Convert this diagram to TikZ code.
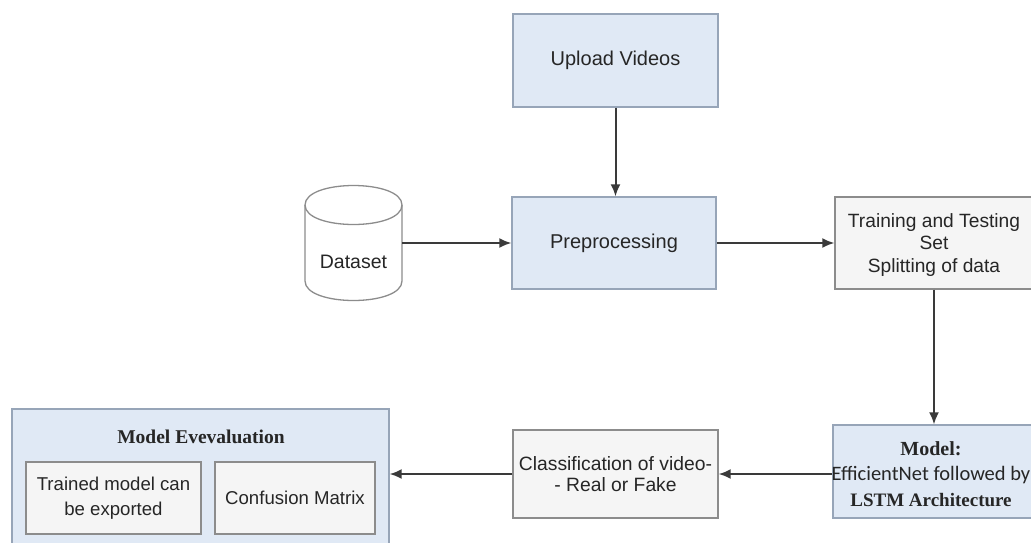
\documentclass[tikz,border=0pt]{standalone}
\usepackage{fontspec}
\setmainfont{Liberation Sans}
\newfontfamily\serifbold{Liberation Serif}
\newfontfamily\calib{Carlito}
\usetikzlibrary{arrows.meta}
\definecolor{bluefill}{HTML}{E0E9F5}
\definecolor{blueline}{HTML}{97A5B8}
\definecolor{grayfill}{HTML}{F5F5F5}
\definecolor{grayline}{HTML}{8C8C8C}
\definecolor{arrowcol}{HTML}{3A3A3A}
\tikzset{
  bluebox/.style={draw=blueline, fill=bluefill, line width=1.3pt, inner sep=0pt, align=center, text=black!85},
  graybox/.style={draw=grayline, fill=grayfill, line width=1.3pt, inner sep=0pt, align=center, text=black!85},
  arr/.style={draw=arrowcol, line width=2pt, -{Latex[length=12pt,width=10pt]}},
  txt/.style={font=\fontsize{20}{24}\selectfont}
}
\begin{document}
\begin{tikzpicture}[x=1pt,y=-1pt]
\useasboundingbox (0,0) rectangle (1031,542);
\clip (0,0) rectangle (1031,542);
\fill[white] (0,0) rectangle (1031,542);

% Upload videos
\node[bluebox, txt, minimum width=205pt, minimum height=93pt] (up) at (615.5,60.5) {Upload Videos};
% Preprocessing
\node[bluebox, txt, minimum width=204pt, minimum height=92pt] (pre) at (614,243) {Preprocessing};
% Dataset cylinder
\node[minimum width=97pt, minimum height=120pt, inner sep=0pt] (ds) at (353.5,243) {};
\draw[draw=grayline, fill=white, line width=1.3pt]
  (305,205) -- (305,281) .. controls (305,307) and (402,307) .. (402,281)
  -- (402,205) .. controls (402,179) and (305,179) .. (305,205) -- cycle;
\draw[draw=grayline, line width=1.3pt] (305,205) .. controls (305,231) and (402,231) .. (402,205);
\node[font=\fontsize{19.5}{23}\selectfont, text=black!85] (dstext) at (353.5,262) {Dataset};
% Training
\node[graybox, font=\fontsize{19.2}{22.5}\selectfont, minimum width=198pt, minimum height=92pt, text depth=0pt] (train) at (934,243) {Training and Testing\\Set\\Splitting of data};
% Model
\node[bluebox, minimum width=200pt, minimum height=93pt] (model) at (933,471.5) {};
\node[align=center, text=black!85, inner sep=0pt, font=\fontsize{19}{25.5}\selectfont] (modeltext) at (931,474) {%
  {\serifbold\bfseries\fontsize{20}{25.5}\selectfont Model:}\\
  {\calib\fontsize{20.5}{25.5}\selectfont EfficientNet followed by}\\
  {\serifbold\bfseries\fontsize{19}{25.5}\selectfont LSTM Architecture}};
% Classification
\node[graybox, font=\fontsize{19.3}{21.5}\selectfont, minimum width=205pt, minimum height=88pt] (cls) at (615.5,474) {Classification of video-\\- Real or Fake};
% Model evaluation
\node[bluebox, minimum width=377pt, minimum height=139pt] (eval) at (200.5,478.5) {};
\node[text=black!85, inner sep=0pt] (evaltitle) at (201,437) {\serifbold\bfseries\fontsize{19.5}{22}\selectfont Model Evevaluation};
\node[graybox, font=\fontsize{18.6}{25}\selectfont, minimum width=175pt, minimum height=72pt] (exp) at (113.5,498) {Trained model can\\be exported};
\node[graybox, font=\fontsize{18.6}{25}\selectfont, minimum width=160pt, minimum height=72pt] (cm) at (295,498) {Confusion Matrix};

% connectors
\draw[arr] (up.south) -- (up.south |- pre.north);
\draw[arr] (ds.east) -- (pre.west);
\draw[arr] (pre.east) -- (train.west);
\draw[arr] (train.south) -- (train.south |- model.north);
\draw[arr] (model.west |- cls.east) -- (cls.east);
\draw[arr] (cls.west) -- (eval.east |- cls.west);
\end{tikzpicture}
\end{document}
